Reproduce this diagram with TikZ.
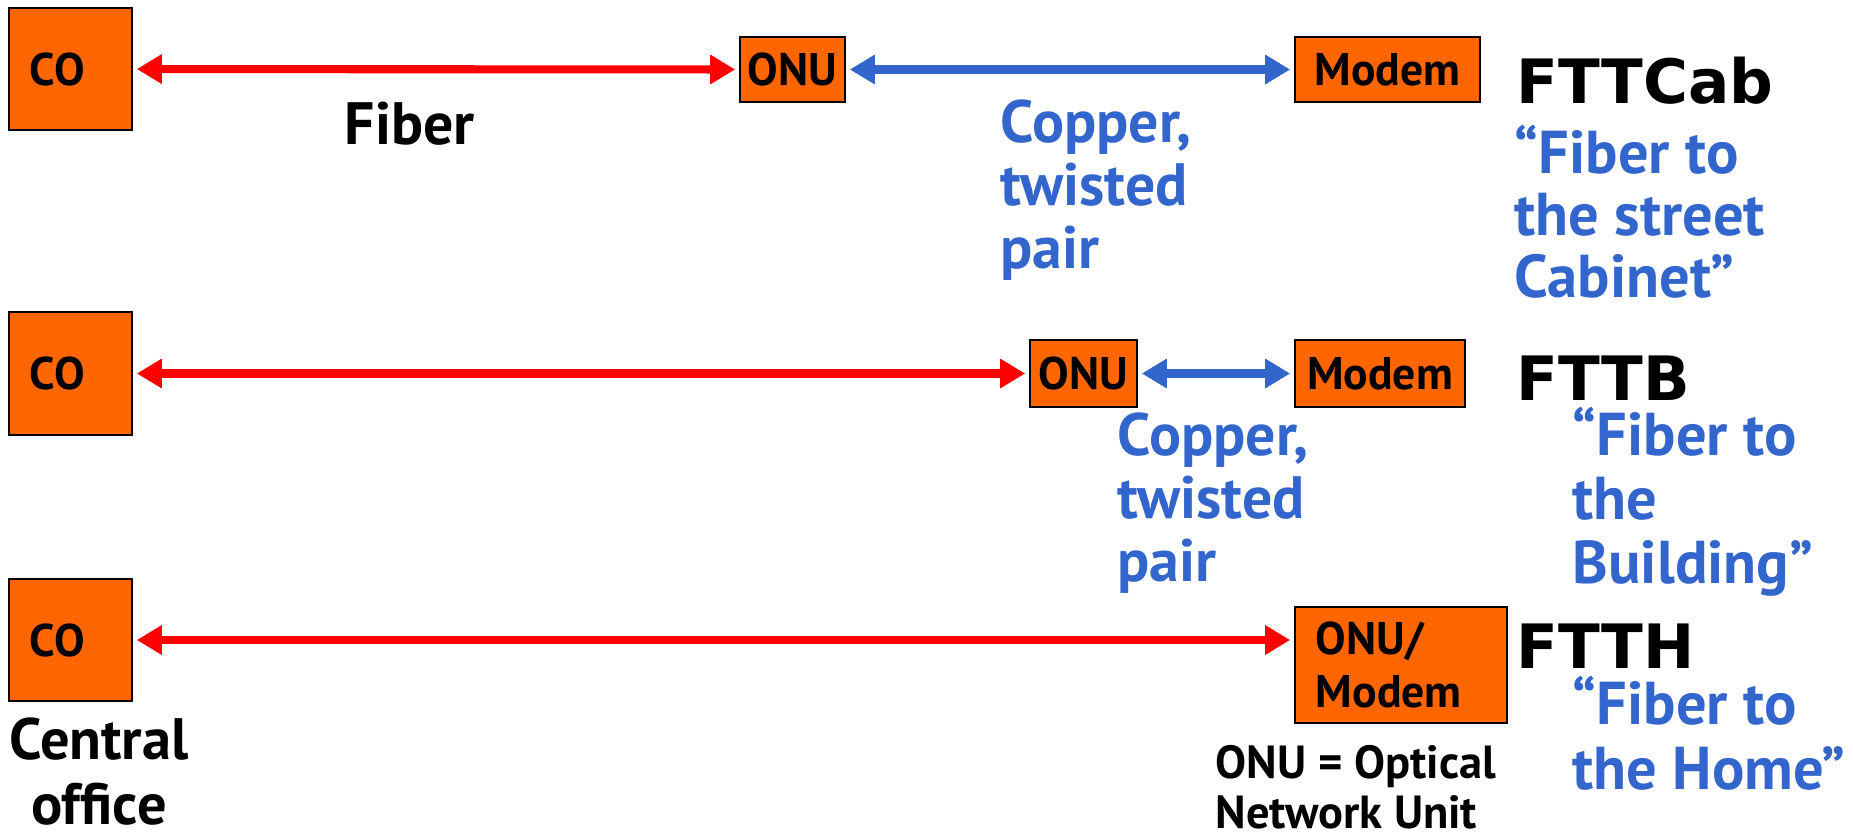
\documentclass[tikz,border=0pt]{standalone}
\usepackage{fontspec}
\setmainfont{PT Sans}
\newfontfamily\headfont{DejaVu Sans}
\usetikzlibrary{arrows.meta, positioning}
\definecolor{boxorange}{HTML}{FF6600}
\definecolor{copperblue}{HTML}{3366CC}
\definecolor{fiberred}{HTML}{FF0000}

\begin{document}
\begin{tikzpicture}[x=0.01cm, y=-0.01cm,
	unit/.style={draw=black, line width=0.7pt, fill=boxorange, inner sep=0pt,
		font=\fontsize{13}{15}\selectfont\bfseries},
	link/.style={line width=2.3pt, shorten <=1pt, shorten >=1pt,
		{Triangle[length=0.25cm,width=0.28cm]}-{Triangle[length=0.25cm,width=0.28cm]}},
	fiber/.style={link, fiberred},
	copper/.style={link, copperblue},
	note/.style={inner sep=0pt, align=left, anchor=base west,
		font=\fontsize{17}{17.9}\selectfont\bfseries},
	kind/.style={inner sep=0pt, anchor=base west,
		font=\headfont\fontsize{17.4}{20}\selectfont\bfseries}]
	\useasboundingbox (0,0) rectangle (1853,835);

	% FTTCab (base of a multi-line note is its last line)
	\node[unit, minimum width=1.23cm, minimum height=1.22cm, text width=0.81cm] (co1) at (70.5,69) {CO};
	\node[unit, minimum width=1.05cm, minimum height=0.65cm] (onu1) at (792.5,69.5) {ONU};
	\node[unit, minimum width=1.85cm, minimum height=0.65cm] (modem1) at (1387.5,69.5) {Modem};
	\draw[fiber] (co1) -- (onu1);
	\draw[copper] (onu1) -- (modem1);
	\node[note] (fib1) at (344,144) {Fiber};
	\node[note, copperblue] (cu1) at (1000,268) {Copper,\\twisted\\pair};
	\node[kind] (cab) at (1516,103) {FTTCab};
	\node[note, copperblue, font=\fontsize{17.2}{17.6}\selectfont\bfseries] (cabtxt) at (1514,297)
		{“Fiber to\\the street\\Cabinet”};

	% FTTB
	\node[unit, minimum width=1.23cm, minimum height=1.23cm, text width=0.81cm] (co2) at (70.5,373.5) {CO};
	\node[unit, minimum width=1.07cm, minimum height=0.67cm] (onu2) at (1083.5,373.5) {ONU};
	\node[unit, minimum width=1.70cm, minimum height=0.67cm] (modem2) at (1380,373.5) {Modem};
	\draw[fiber] (co2) -- (onu2);
	\draw[copper] (onu2) -- (modem2);
	\node[note, copperblue] (cu2) at (1117,581) {Copper,\\twisted\\pair};
	\node[kind] (bld) at (1516,400) {FTTB};
	\node[note, copperblue, font=\fontsize{17.2}{18.1}\selectfont\bfseries] (bldtxt) at (1572,583)
		{“Fiber to\\the\\Building”};

	% FTTH
	\node[unit, minimum width=1.23cm, minimum height=1.22cm, text width=0.81cm] (co3) at (70.5,640) {CO};
	\node[unit, minimum width=2.12cm, minimum height=1.16cm, text width=1.70cm, align=left] (home) at (1401,665)
		{ONU/\\Modem};
	\draw[fiber] (co3.east) -- (co3.east -| home.west);
	\node[note, align=center, anchor=base, font=\fontsize{16.6}{18.4}\selectfont\bfseries] (central) at (99,824)
		{Central\\office};
	\node[kind] (hom) at (1516,668) {FTTH};
	\node[note, copperblue, font=\fontsize{17.2}{18.4}\selectfont\bfseries] (homtxt) at (1572,789)
		{“Fiber to\\the Home”};
	\node[note, font=\fontsize{13.2}{14}\selectfont\bfseries] (legend) at (1215,828)
		{ONU = Optical\\Network Unit};
\end{tikzpicture}
\end{document}
